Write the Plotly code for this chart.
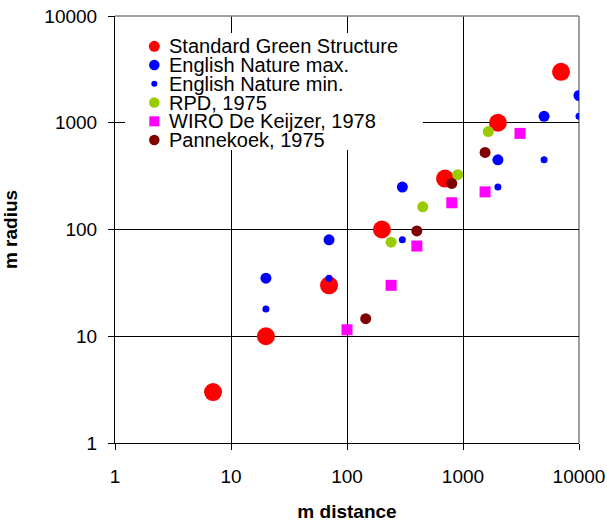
import plotly.graph_objects as go

# ---------------- data ----------------
series_names = ["Standard Green Structure", "English Nature max.", "English Nature min.",
                "RPD, 1975", "WIRO De Keijzer, 1978", "Pannekoek, 1975"]

sgs_x = [7, 20, 70, 200, 700, 2000, 7000]
sgs_y = [3, 10, 30, 100, 300, 1000, 3000]

en_max_x = [20, 70, 300, 2000, 5000, 10000]
en_max_y = [35, 80, 250, 450, 1150, 1800]

en_min_x = [20, 70, 300, 2000, 5000, 10000]
en_min_y = [18, 35, 80, 250, 450, 1150]

rpd_x = [240, 450, 900, 1650]
rpd_y = [76, 163, 326, 826]

wiro_x = [100, 240, 400, 800, 1550, 3100]
wiro_y = [11.5, 30, 70, 178, 225, 795]

pann_x = [145, 400, 800, 1550]
pann_y = [14.6, 97, 270, 527]

tick_vals = [1, 10, 100, 1000, 10000]
tick_text = ["1", "10", "100", "1000", "10000"]

x_title = "m distance"
y_title = "m radius"

# ---------------- styles ----------------
colors = ["#FF0000", "#0000FF", "#0000FF", "#99CC00", "#FF00FF", "#800000"]
symbols = ["circle", "circle", "circle", "circle", "square", "circle"]
sizes = [18, 11, 7, 11, 11, 11]
legend_sizes = [11, 10.5, 6, 10.5, 10, 10.5]

FONT = "Arial, 'Liberation Sans', sans-serif"
W, H = 607, 523
PLOT_L, PLOT_R, PLOT_T, PLOT_B = 115, 579, 16, 443   # plot area in page pixels
ML, MT = PLOT_L, PLOT_T
MR, MB = W - PLOT_R, H - PLOT_B
PW, PH = PLOT_R - PLOT_L, PLOT_B - PLOT_T

def px2paper_x(px):
    return (px - PLOT_L) / PW

def px2paper_y(py):
    return (PLOT_B - py) / PH

data = [(sgs_x, sgs_y), (en_max_x, en_max_y), (en_min_x, en_min_y),
        (rpd_x, rpd_y), (wiro_x, wiro_y), (pann_x, pann_y)]

fig = go.Figure()
for (xs, ys), name, c, s, sz in zip(data, series_names, colors, symbols, sizes):
    fig.add_trace(go.Scatter(
        x=xs, y=ys, mode="markers", name=name, showlegend=False,
        marker=dict(color=c, symbol=s, size=sz, line=dict(width=0)),
    ))

shapes = []
# plot-area border (grey, top & right)
shapes.append(dict(type="line", xref="paper", yref="paper", x0=0, x1=1, y0=1, y1=1,
                   line=dict(color="#808080", width=1.5), layer="above"))
shapes.append(dict(type="line", xref="paper", yref="paper", x0=1, x1=1, y0=0, y1=1,
                   line=dict(color="#808080", width=1.5), layer="below"))
# legend background
shapes.append(dict(type="rect", xref="paper", yref="paper",
                   x0=px2paper_x(125), x1=px2paper_x(423),
                   y0=px2paper_y(150), y1=px2paper_y(33),
                   fillcolor="white", line=dict(width=0), layer="above"))

annotations = []
row0, row_step = 46.3, 18.75
sw_x = px2paper_x(154.3)
for i, (name, c, s, lsz) in enumerate(zip(series_names, colors, symbols, legend_sizes)):
    cy = px2paper_y(row0 + i * row_step)
    r = lsz / 2
    shapes.append(dict(type="rect" if s == "square" else "circle",
                       xref="paper", yref="paper",
                       xsizemode="pixel", ysizemode="pixel",
                       xanchor=sw_x, yanchor=cy,
                       x0=-r, x1=r, y0=-r, y1=r,
                       fillcolor=c, line=dict(width=0), layer="above"))
    annotations.append(dict(xref="paper", yref="paper", x=px2paper_x(166.5), y=cy,
                            xanchor="left", yanchor="middle", showarrow=False,
                            text=name, font=dict(family=FONT, size=20, color="black")))

axis_common = dict(
    type="log", range=[0, 4], tickmode="array", tickvals=tick_vals, ticktext=tick_text,
    showgrid=True, gridcolor="black", gridwidth=1,
    showline=True, linecolor="black", linewidth=1, mirror=False,
    ticks="outside", ticklen=6, tickcolor="black", tickwidth=1,
    tickfont=dict(family=FONT, size=19, color="black"),
    ticklabeloverflow="allow",
    zeroline=False, automargin=False,
)

fig.update_layout(
    width=W, height=H,
    margin=dict(l=ML, r=MR, t=MT, b=MB, pad=0),
    paper_bgcolor="white", plot_bgcolor="white",
    xaxis=dict(**axis_common, ticklabelstandoff=10,
               title=dict(text="<b>" + x_title + "</b>", standoff=18,
                          font=dict(family=FONT, size=19, color="black"))),
    yaxis=dict(**axis_common, ticklabelstandoff=7,
               title=dict(text="<b>" + y_title + "</b>", standoff=21,
                          font=dict(family=FONT, size=19, color="black"))),
    shapes=shapes, annotations=annotations, showlegend=False,
)

fig.write_html("out.html",
               config={"displayModeBar": False},
               post_script="document.body.style.margin='0';document.body.style.overflow='hidden';")
